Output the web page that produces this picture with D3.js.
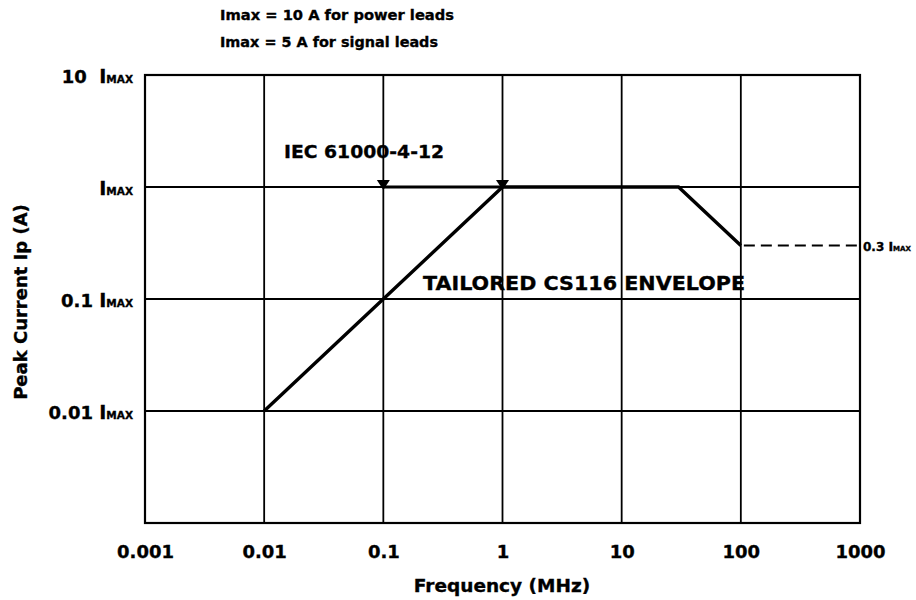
<!DOCTYPE html>
<html>
<head>
<meta charset="utf-8">
<script src="https://cdn.jsdelivr.net/npm/d3@7"></script>
<style>
  html, body { margin: 0; padding: 0; background: #fff; }
  svg { display: block; }
  text { font-family: "DejaVu Sans", Arial, sans-serif; font-weight: bold; fill: #000; stroke: #000; stroke-width: 0.35px; }
</style>
</head>
<body>
<svg id="chart" width="916" height="600"></svg>
<script>
// ---- data ----
const xTicks = [0.001, 0.01, 0.1, 1, 10, 100, 1000];
const xTickLabels = ["0.001", "0.01", "0.1", "1", "10", "100", "1000"];
const yTicks = [10, 1, 0.1, 0.01];              // in units of Imax
const yTickPrefix = ["10", "", "0.1", "0.01"];  // label text before "IMAX"
const envelopeFreq = [0.01, 1, 30, 100];        // MHz
const envelopeCurrent = [0.01, 1, 1, 0.3];      // x Imax
const iecFreq = [0.1, 1];
const iecCurrent = [1, 1];
const dashedFreq = [100, 1000];
const dashedCurrent = [0.3, 0.3];
const notes = ["Imax = 10 A for power leads", "Imax = 5 A for signal leads"];

// ---- layout ----
const L = 145, R = 860, T = 75, B = 523;
const svg = d3.select("#chart");
const x = d3.scaleLog().domain([0.001, 1000]).range([L, R]);
const y = d3.scaleLog().domain([0.001, 10]).range([B, T]);

// grid lines
svg.append("g").selectAll("line").data(xTicks.slice(1, -1)).join("line")
  .attr("x1", d => x(d)).attr("x2", d => x(d)).attr("y1", T).attr("y2", B)
  .attr("stroke", "#000").attr("stroke-width", 1.8);
svg.append("g").selectAll("line").data(yTicks.slice(1)).join("line")
  .attr("x1", L).attr("x2", R).attr("y1", d => y(d)).attr("y2", d => y(d))
  .attr("stroke", "#000").attr("stroke-width", 1.8);

// frame
svg.append("rect").attr("x", L).attr("y", T).attr("width", R - L).attr("height", B - T)
  .attr("fill", "none").attr("stroke", "#000").attr("stroke-width", 2.2);

// x axis labels
const xAxis = d3.axisBottom(x).tickValues(xTicks).tickFormat((d, i) => xTickLabels[i]).tickSize(0).tickPadding(0);
const gx = svg.append("g").attr("transform", `translate(0,${B})`).call(xAxis);
gx.select(".domain").remove();
gx.selectAll("text").attr("y", 35).attr("dy", 0)
  .style("font-size", "18px").style("font-family", "'DejaVu Sans', Arial, sans-serif")
  .style("font-weight", "bold").attr("fill", "#000").attr("stroke", "#000").attr("stroke-width", 0.35);

// y axis labels
const gy = svg.append("g");
yTicks.forEach((v, i) => {
  const t = gy.append("text").attr("x", L - 12).attr("y", y(v) + 8).attr("text-anchor", "end");
  if (yTickPrefix[i]) {
    t.append("tspan").text(yTickPrefix[i] + (v === 10 ? "\u00a0\u00a0" : "\u00a0")).style("font-size", "18px");
  }
  t.append("tspan").text("I").style("font-size", "19px");
  t.append("tspan").text("MAX").style("font-size", "10.5px");
});

// axis titles
svg.append("text").attr("x", (412 + 592) / 2).attr("y", 592).attr("text-anchor", "middle")
  .style("font-size", "18.5px").text("Frequency (MHz)");
svg.append("text").attr("transform", `translate(27,${302}) rotate(-90)`).attr("text-anchor", "middle")
  .style("font-size", "18px").text("Peak Current Ip (A)");

// top notes
svg.append("text").attr("x", 220).attr("y", 20).style("font-size", "14.5px")
  .attr("textLength", 234).attr("lengthAdjust", "spacingAndGlyphs").text(notes[0]);
svg.append("text").attr("x", 220).attr("y", 47).style("font-size", "14.5px")
  .attr("textLength", 218).attr("lengthAdjust", "spacingAndGlyphs").text(notes[1]);

// line generator
const line = d3.line().x(d => x(d[0])).y(d => y(d[1]));

// IEC 61000-4-12 segment
svg.append("path").datum(iecFreq.map((f, i) => [f, iecCurrent[i]]))
  .attr("d", line).attr("fill", "none").attr("stroke", "#000").attr("stroke-width", 3);

// tailored envelope
svg.append("path").datum(envelopeFreq.map((f, i) => [f, envelopeCurrent[i]]))
  .attr("d", line).attr("fill", "none").attr("stroke", "#000").attr("stroke-width", 3.4)
  .attr("stroke-linejoin", "miter");

// dashed extension to 0.3 Imax
svg.append("path").datum(dashedFreq.map((f, i) => [f, dashedCurrent[i]]))
  .attr("d", line).attr("fill", "none").attr("stroke", "#000").attr("stroke-width", 2)
  .attr("stroke-dasharray", "11,6").attr("stroke-dashoffset", -3);

// triangle markers
svg.append("g").selectAll("path").data(iecFreq.map((f, i) => [f, iecCurrent[i]])).join("path")
  .attr("d", d => {
    const cx = x(d[0]), cy = y(d[1]);
    return `M${cx - 6.5},${cy - 7} L${cx + 6.5},${cy - 7} L${cx},${cy + 3} Z`;
  })
  .attr("fill", "#000");

// annotations
svg.append("text").attr("x", 284).attr("y", 158).style("font-size", "18.5px")
  .attr("textLength", 160).attr("lengthAdjust", "spacingAndGlyphs").text("IEC 61000-4-12");
svg.append("text").attr("x", 423).attr("y", 290).style("font-size", "20px")
  .attr("textLength", 322).attr("lengthAdjust", "spacingAndGlyphs").text("TAILORED CS116 ENVELOPE");

// 0.3 Imax label
const lab = svg.append("text").attr("x", 863).attr("y", y(0.3) + 5);
lab.append("tspan").text("0.3\u00a0").style("font-size", "12px");
lab.append("tspan").text("I").style("font-size", "12.5px");
lab.append("tspan").text("MAX").style("font-size", "7px");
</script>
</body>
</html>
